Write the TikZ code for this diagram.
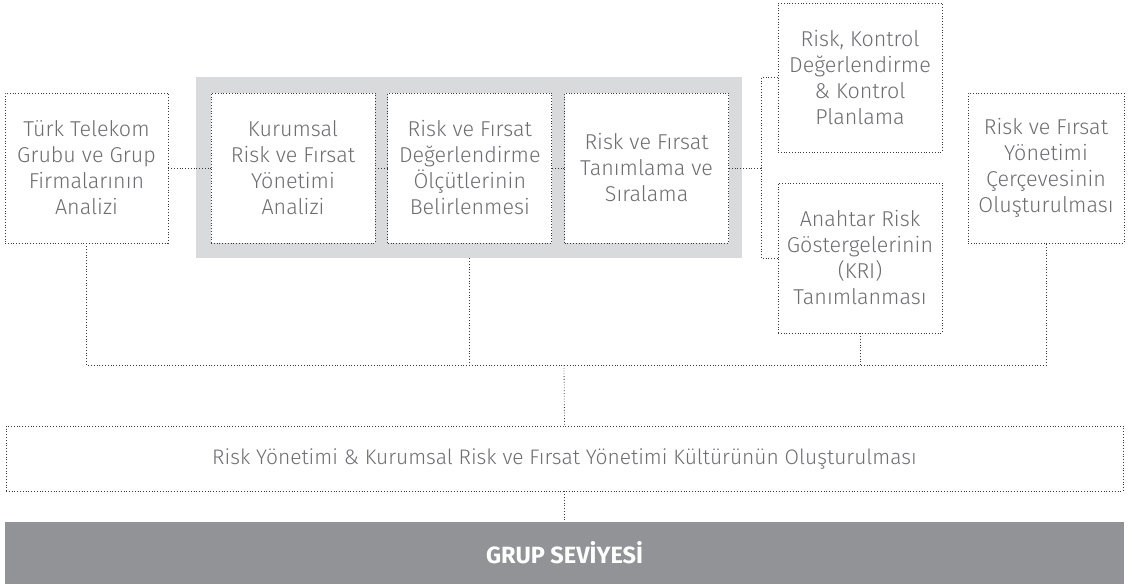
\documentclass[tikz,border=0pt]{standalone}
\usepackage{fontspec}
\setmainfont{Fira Sans}[UprightFont={* Light},BoldFont={* Bold}]
\usepackage{xcolor}
\usepackage{tikz}
\usetikzlibrary{positioning}
\definecolor{txtgray}{HTML}{6D6E71}
\definecolor{linegray}{HTML}{3A3A3C}
\definecolor{bggray}{HTML}{D9DADC}
\definecolor{bandgray}{HTML}{929396}

\begin{document}
\begin{tikzpicture}[x=1pt,y=-1pt,
  box/.style={draw=linegray,dotted,line width=0.8pt,fill=white,text=txtgray,align=center,
    inner sep=0pt,minimum width=164pt,minimum height=150pt,
    font=\fontsize{21.5}{26}\selectfont},
  link/.style={draw=linegray,dotted,line width=0.8pt}]
\useasboundingbox (0,0) rectangle (1133,587);

\node[fill=bggray,minimum width=546pt,minimum height=181pt,inner sep=0pt] (bg) at (469,167.5) {};

\node[box,minimum width=163pt] (A) at (86.5,168) {Türk Telekom\\Grubu ve Grup\\Firmalarının\\Analizi};
\node[box] (B) at (293,168) {Kurumsal\\Risk ve Fırsat\\Yönetimi\\Analizi};
\node[box] (C) [right=12pt of B] {Risk ve Fırsat\\Değerlendirme\\Ölçütlerinin\\Belirlenmesi};
\node[box] (D) [right=12pt of C] {Risk ve Fırsat\\Tanımlama ve\\Sıralama};
\node[box,minimum height=149pt] (E) at (860,77.5) {Risk, Kontrol\\Değerlendirme\\\& Kontrol\\Planlama};
\node[box] (F) at (860,258) {Anahtar Risk\\Göstergelerinin\\(KRI)\\Tanımlanması};
\node[box,minimum width=156pt] (G) at (1046,168) {Risk ve Fırsat\\Yönetimi\\Çerçevesinin\\Oluşturulması};

\node[box,minimum width=1117pt,minimum height=65pt,font=\fontsize{21}{26}\selectfont] (H) at (564.5,458.5)
  {Risk Yönetimi \& Kurumsal Risk ve Fırsat Yönetimi Kültürünün Oluşturulması};
\node[fill=bandgray,text=white,minimum width=1119pt,minimum height=62pt,inner sep=0pt,
  font=\fontsize{23.5}{26}\selectfont\bfseries] (I) at (564.5,553) {GRUP SEVİYESİ};

\coordinate (bus) at (564,365);
\coordinate (brk) at (761,168);

\path[link] (A.east) edge (B.west);
\path[link] (B.east) edge (C.west);
\path[link] (C.east) edge (D.west);
\path[link] (D.east) edge (brk);
\draw[link] (E.west) -| (brk) |- (F.west);

\draw[link] (A.south) |- (bus) -| (G.south);
\draw[link] (C |- bg.south) -- (C |- bus);
\draw[link] (F.south) -- (F |- bus);
\draw[link] (bus) -- (H.north);
\draw[link] (H.south) -- (I.north);

\end{tikzpicture}
\end{document}
